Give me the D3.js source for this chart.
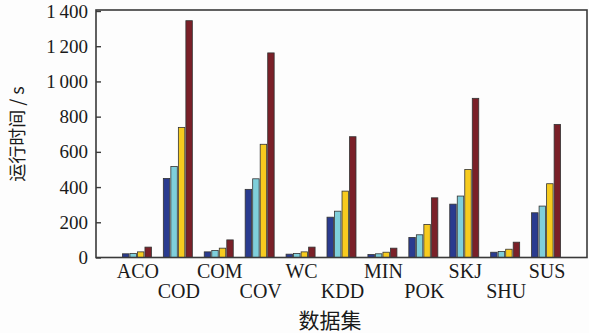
<!DOCTYPE html>
<html><head><meta charset="utf-8">
<script src="https://cdn.jsdelivr.net/npm/d3@7"></script>
<style>body{margin:0;background:#fdfdfd}svg{display:block}</style>
</head><body>
<svg id="c" width="589" height="333"></svg>
<script>
const categories = ["ACO","COD","COM","COV","WC","KDD","MIN","POK","SKJ","SHU","SUS"];
const seriesNames = ["s1","s2","s3","s4"];
const s1 = [21, 449, 32, 387, 19, 229, 17, 114, 303, 30, 254];
const s2 = [23, 517, 40, 447, 23, 263, 21, 129, 349, 34, 292];
const s3 = [32, 739, 53, 643, 32, 377, 30, 188, 500, 47, 419];
const s4 = [59, 1345, 100, 1162, 59, 686, 53, 339, 904, 87, 756];
const yTicks = [0,200,400,600,800,1000,1200,1400];
const colors = ["#2a3b8f","#7fcfdb","#f7cb1e","#7a2028"];

const series = [s1,s2,s3,s4];
const svg = d3.select("#c");
const L=96, R=587, T=10, B=257.5;
const x0 = d3.scalePoint().domain(categories).range([L,R]).padding(1);
const x1 = d3.scaleBand().domain(seriesNames).range([-14.5,14.5]).paddingInner(0.14);
const y = d3.scaleLinear().domain([0,1400]).range([B,11]);

const fmt = v => { const s = String(v); return s.length>3 ? s.slice(0,s.length-3)+"\u2009"+s.slice(-3) : s; };

const g = svg.append("g");
categories.forEach((c,i)=>{
  seriesNames.forEach((sn,j)=>{
    const v = series[j][i];
    g.append("rect")
      .attr("x", x0(c)+x1(sn)).attr("width", x1.bandwidth())
      .attr("y", y(v)).attr("height", B - y(v))
      .attr("fill", colors[j]).attr("stroke","#333").attr("stroke-width",0.8);
  });
});

// frame
svg.append("rect").attr("x",L).attr("y",T).attr("width",R-L).attr("height",B-T)
  .attr("fill","none").attr("stroke","#3a3a3a").attr("stroke-width",1.6);

// y axis
const ya = svg.append("g").attr("transform",`translate(${L},0)`)
  .call(d3.axisLeft(y).tickValues(yTicks).tickSize(-5).tickPadding(8).tickFormat(fmt));
ya.select(".domain").remove();
ya.selectAll("line").attr("stroke","#3a3a3a").attr("stroke-width",1.4);
ya.selectAll("text").attr("font-family","'Liberation Serif', serif").attr("font-size",19).attr("fill","#1a1a1a");

// x labels
const xa = svg.append("g");
categories.forEach((c,i)=>{
  xa.append("text").attr("x", x0(c)+1).attr("y", i%2===0 ? 278 : 298)
    .attr("text-anchor","middle").attr("font-family","'Liberation Serif', serif")
    .attr("font-size",20).attr("fill","#1a1a1a").text(c);
});

svg.append("text").attr("x",330).attr("y",328).attr("text-anchor","middle")
  .attr("font-family","'Noto Sans CJK SC', sans-serif").attr("font-size",21).attr("fill","#1a1a1a").text("数据集");
svg.append("text").attr("transform","translate(24,134) rotate(-90)").attr("text-anchor","middle")
  .attr("font-family","'Noto Sans CJK SC', sans-serif").attr("font-size",18).attr("fill","#1a1a1a").text("运行时间 / s");
</script>
</body></html>
